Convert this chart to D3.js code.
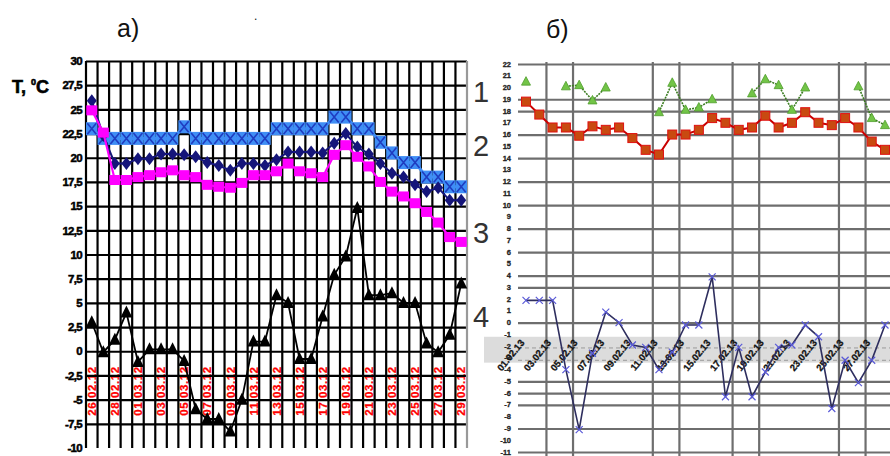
<!DOCTYPE html>
<html><head><meta charset="utf-8">
<script src="https://cdn.jsdelivr.net/npm/d3@7"></script>
<style>body{margin:0;background:#fff}svg{display:block}</style>
</head><body>
<svg id="c" width="890" height="456"></svg>
<script>
// ---------- Panel a) data ----------
const labelsA = ["26.02.12","28.02.12","01.03.12","03.03.12","05.03.12","07.03.12","09.03.12","11.03.12","13.03.12","15.03.12","17.03.12","19.03.12","21.03.12","23.03.12","25.03.12","27.03.12","29.03.12"];
const ticksA = [-10,-7.5,-5,-2.5,0,2.5,5,7.5,10,12.5,15,17.5,20,22.5,25,27.5,30];
const seriesA1 = [23.0,22,22,22,22,22,22,22,23.2,22,22,22,22,22,22,22,23,23,23,23,23,24.2,24.2,23,23,21.6,20.5,19.5,19.5,18,18,17,17];
const seriesA2 = [25.9,22.3,19.4,19.4,19.9,19.9,20.4,20.4,20.3,20.1,19.5,19.2,18.7,19.4,19.4,19.2,19.8,20.6,20.6,20.6,20.5,21.5,22.5,21.1,20.4,19.4,18.4,18.0,17.2,16.5,16.9,15.6,15.6];
const seriesA3 = [24.9,22.6,17.7,17.7,18.0,18.2,18.5,18.7,18.2,18.0,17.2,17.0,16.9,17.4,18.2,18.2,18.6,19.4,18.6,18.4,18.0,20.3,21.3,20.1,19.1,17.5,16.5,16.0,15.3,14.4,13.3,11.8,11.3];
const seriesA4 = [3.0,-0.1,1.2,4.0,-1.1,0.2,0.2,0.2,-1.0,-6.0,-7.0,-7.0,-8.3,-5.0,1.0,1.0,5.8,5.0,-0.8,-0.8,3.6,7.9,9.8,14.8,5.8,5.8,6.0,5.0,5.0,0.8,-0.1,1.7,7.0];

// ---------- Panel б) data ----------
const labelsB = ["01.02.13","03.02.13","05.02.13","07.02.13","09.02.13","11.02.13","13.02.13","15.02.13","17.02.13","19.02.13","21.02.13","23.02.13","25.02.13","27.02.13"];
const ticksB = d3.range(22, -12, -1);
const gridB = [22,19,18,16,14,12,10,8,6,4,3,0,-5,-6,-7,-9,-11];
const vgridB = [1.5,3.5,9.5,11.5,15.5,17.5,23.5,25.5];
const bandB = [-1.2,-3.4];
const dashB = [-2.15,-3.2];
const seriesB1 = [20.5,null,null,20.1,20.2,18.9,20.0,null,null,null,17.9,20.4,18.1,18.3,19.0,null,null,19.5,20.7,20.2,18.1,20.0,null,null,null,20.1,17.4,16.8];
const seriesB2 = [18.8,17.7,16.6,16.6,15.9,16.7,16.4,16.6,15.7,14.7,14.3,16.0,16.0,16.4,17.4,17.0,16.4,16.6,17.6,16.6,17.0,17.9,17.0,16.8,17.4,16.6,15.4,14.7];
const seriesB4 = [1.9,1.9,1.9,-4.0,-9.1,-2.6,0.9,0.0,-1.9,-2.1,-4.0,-2.5,-0.2,-0.2,3.9,-6.3,-2.1,-6.3,-4.2,-2.1,-1.9,-0.2,-1.2,-7.3,-3.2,-5.1,-3.2,-0.2];
const curveLabels = ["1","2","3","4"];
const curveLabelVals = [26.8, 21.2, 12.2, 3.5];

const svg = d3.select("#c");
const FONT = "'Liberation Sans', Arial, sans-serif";

// ================= Panel a =================
const nA = seriesA1.length;
const xA = d3.scaleBand().domain(d3.range(nA)).range([86, 467]).paddingInner(0).paddingOuter(0);
const cx = i => xA(i) + xA.bandwidth() / 2;
const yA = d3.scaleLinear().domain([-10, 30]).range([448, 61]);
const gA = svg.append("g");

// red date labels (drawn under the grid)
gA.append("g").selectAll("text").data(labelsA).join("text")
  .attr("transform", (d, k) => `translate(${cx(k * 2) + 4.2},${yA(-4.1)}) rotate(-90)`)
  .attr("text-anchor", "middle")
  .attr("font-family", FONT).attr("font-weight", "bold").attr("font-size", 11.5)
  .attr("letter-spacing", 0.6)
  .attr("fill", "#ff0000").attr("stroke", "#ff0000").attr("stroke-width", 0.3).text(d => d);

// horizontal grid via axis
const yAxisA = d3.axisLeft(yA).tickValues(ticksA).tickSize(-(467 - 86)).tickPadding(5)
  .tickFormat(d => String(d).replace(".", ","));
const gy = gA.append("g").attr("transform", "translate(86,0)").call(yAxisA);
gy.select(".domain").remove();
gy.selectAll(".tick line").attr("stroke", "#000").attr("stroke-width", 2.2)
  .filter(d => d === -10).remove();
gy.selectAll(".tick text").attr("font-family", FONT).attr("font-weight", "bold")
  .attr("font-size", 11.5).attr("letter-spacing", -0.7).attr("fill", "#000")
  .attr("stroke", "#000").attr("stroke-width", 0.5).attr("dx", 1);

// vertical grid
const bounds = d3.range(nA + 1).map(k => k === nA ? 467 : xA(k));
gA.append("g").selectAll("line").data(bounds).join("line")
  .attr("x1", d => d).attr("x2", d => d).attr("y1", yA(30)).attr("y2", yA(-10))
  .attr("stroke", (d, k) => k === nA ? "#999" : "#000").attr("stroke-width", 2.2);

// series 1: light blue band with X marks
const lineA = d3.line().x((d, i) => cx(i)).y(d => yA(d));
gA.append("path").datum(seriesA1).attr("d", lineA).attr("fill", "none")
  .attr("stroke", "#3f8ef5").attr("stroke-width", 3);
const bw = xA.bandwidth();
const m1 = gA.append("g").selectAll("g").data(seriesA1).join("g")
  .attr("transform", (d, i) => `translate(${cx(i)},${yA(d)})`);
m1.append("rect").attr("x", -bw / 2).attr("y", -6.5).attr("width", bw).attr("height", 13).attr("fill", "#3f8ef5");
m1.append("path").attr("d", "M-4.5,-5.5L4.5,5.5M-4.5,5.5L4.5,-5.5").attr("stroke", "#1f3cc0").attr("stroke-width", 1.6);

// series 2: navy diamonds
gA.append("path").datum(seriesA2).attr("d", lineA).attr("fill", "none")
  .attr("stroke", "#15157a").attr("stroke-width", 2);
gA.append("g").selectAll("path").data(seriesA2).join("path")
  .attr("transform", (d, i) => `translate(${cx(i)},${yA(d)})`)
  .attr("d", "M0,-6.5L5,0L0,6.5L-5,0Z").attr("fill", "#15157a");

// series 3: magenta squares
gA.append("path").datum(seriesA3).attr("d", lineA).attr("fill", "none")
  .attr("stroke", "#ff00ff").attr("stroke-width", 2.2);
gA.append("g").selectAll("rect").data(seriesA3).join("rect")
  .attr("x", (d, i) => cx(i) - 5.5).attr("y", d => yA(d) - 5)
  .attr("width", 11).attr("height", 10).attr("fill", "#ff00ff");

// series 4: black triangles
gA.append("path").datum(seriesA4).attr("d", lineA).attr("fill", "none")
  .attr("stroke", "#000").attr("stroke-width", 1.8);
gA.append("g").selectAll("path").data(seriesA4).join("path")
  .attr("transform", (d, i) => `translate(${cx(i)},${yA(d)})`)
  .attr("d", "M0,-7L6,5L-6,5Z").attr("fill", "#000");

// axis title
const tt = svg.append("text").attr("x", 12).attr("y", 93).attr("font-family", FONT)
  .attr("font-weight", "bold").attr("font-size", 18).attr("fill", "#000")
  .attr("stroke", "#000").attr("stroke-width", 0.6);
tt.append("tspan").text("T, ");
tt.append("tspan").attr("font-size", 9).attr("dy", -8).text("0");
tt.append("tspan").attr("dy", 8).text("C");

// panel titles
svg.append("text").attr("x", 117).attr("y", 37).attr("font-family", FONT).attr("font-size", 25).attr("fill", "#111").text("а)");
svg.append("text").attr("x", 254).attr("y", 20).attr("font-family", FONT).attr("font-size", 12).attr("fill", "#111").text(".");
svg.append("text").attr("x", 546).attr("y", 38).attr("font-family", FONT).attr("font-size", 25).attr("fill", "#111").text("б)");

// curve numbers
svg.append("g").selectAll("text").data(curveLabels).join("text")
  .attr("x", 481).attr("y", (d, i) => yA(curveLabelVals[i]) + 10)
  .attr("text-anchor", "middle").attr("font-family", FONT).attr("font-size", 29)
  .attr("fill", "#333").text(d => d);

// ================= Panel б =================
const nB = seriesB2.length;
const xB = d3.scaleLinear().domain([0, nB - 1]).range([526, 885]);
const yB = d3.scaleLinear().domain([-11, 22]).range([452, 64]);
const gB = svg.append("g");

// grey band
gB.append("rect").attr("x", 484).attr("y", yB(bandB[0])).attr("width", 890 - 484)
  .attr("height", yB(bandB[1]) - yB(bandB[0])).attr("fill", "#dcdcdc");
gB.append("g").selectAll("line").data(dashB).join("line")
  .attr("x1", 518).attr("x2", 890).attr("y1", d => yB(d)).attr("y2", d => yB(d))
  .attr("stroke", "#9a9a9a").attr("stroke-width", 1).attr("stroke-dasharray", "4,3");

// horizontal grid via axis
const yAxisB = d3.axisRight(yB).tickValues(gridB).tickSize(890 - 518).tickFormat("");
const gyb = gB.append("g").attr("transform", "translate(518,0)").call(yAxisB);
gyb.select(".domain").remove();
gyb.selectAll(".tick line").attr("stroke", "#6e6e6e").attr("stroke-width", 2.2);

// vertical grid via axis
const xAxisB = d3.axisBottom(xB).tickValues(vgridB).tickSize(456 - 62).tickFormat("");
const gxb = gB.append("g").attr("transform", "translate(0,62)").call(xAxisB);
gxb.select(".domain").remove();
gxb.selectAll(".tick line").attr("stroke", "#6e6e6e").attr("stroke-width", 2.2);

// y labels (tiny)
gB.append("g").selectAll("text").data(ticksB).join("text")
  .attr("x", 511).attr("y", d => yB(d) + 2.5).attr("text-anchor", "end")
  .attr("font-family", FONT).attr("font-weight", "bold").attr("font-size", 7.5)
  .attr("fill", "#222").attr("stroke", "#222").attr("stroke-width", 0.3).text(d => d);

// date labels
gB.append("g").selectAll("text").data(labelsB).join("text")
  .attr("transform", (d, k) => `translate(${xB(k * 2) - 1},${343}) rotate(-51)`)
  .attr("text-anchor", "end").attr("font-family", FONT).attr("font-weight", "bold")
  .attr("font-size", 9.5).attr("fill", "#111").attr("stroke", "#111").attr("stroke-width", 0.3).text(d => d);

const lineB = d3.line().defined(d => d !== null).x((d, i) => xB(i)).y(d => yB(d));

// series 1: green triangles
gB.append("path").datum(seriesB1).attr("d", lineB).attr("fill", "none")
  .attr("stroke", "#3c7d22").attr("stroke-width", 1.6).attr("stroke-dasharray", "2,1");
gB.append("g").selectAll("path").data(seriesB1.map((v, i) => [v, i]).filter(d => d[0] !== null)).join("path")
  .attr("transform", d => `translate(${xB(d[1])},${yB(d[0])})`)
  .attr("d", "M0,-5L4.5,3.5L-4.5,3.5Z").attr("fill", "#72c447").attr("stroke", "#4f9d2c").attr("stroke-width", 0.8);

// series 2: red squares
gB.append("path").datum(seriesB2).attr("d", lineB).attr("fill", "none")
  .attr("stroke", "#c80000").attr("stroke-width", 2);
gB.append("g").selectAll("rect").data(seriesB2).join("rect")
  .attr("x", (d, i) => xB(i) - 4.5).attr("y", d => yB(d) - 4.5)
  .attr("width", 9).attr("height", 9).attr("fill", "#c84a10").attr("stroke", "#e01010").attr("stroke-width", 1);

// series 4: blue x
gB.append("path").datum(seriesB4).attr("d", lineB).attr("fill", "none")
  .attr("stroke", "#2e2e5e").attr("stroke-width", 1.6);
gB.append("g").selectAll("path").data(seriesB4).join("path")
  .attr("transform", (d, i) => `translate(${xB(i)},${yB(d)})`)
  .attr("d", "M-3.5,-3.5L3.5,3.5M-3.5,3.5L3.5,-3.5").attr("stroke", "#5a5ad8").attr("stroke-width", 1.2);
</script>
</body></html>
